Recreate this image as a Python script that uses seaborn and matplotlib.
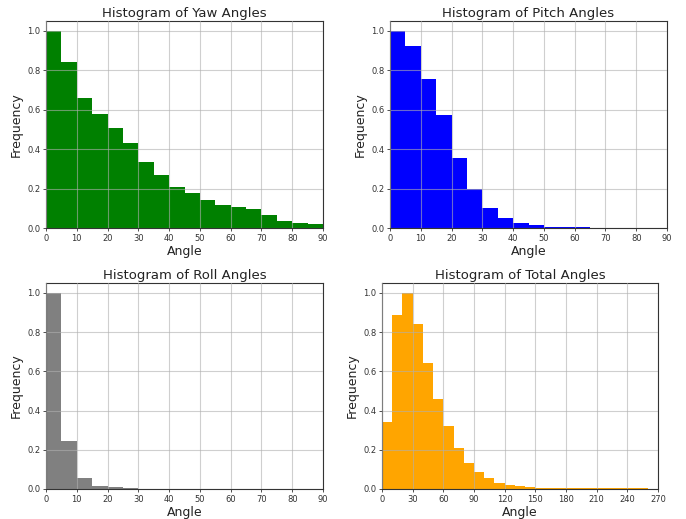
import numpy as np
import pandas as pd
import matplotlib
matplotlib.use("Agg")
import matplotlib.pyplot as plt
import seaborn as sns

# normalized histogram heights (max = 1)
yaw_edges = list(range(0, 95, 5))
yaw_freq = [1.0, 0.84, 0.66, 0.58, 0.505, 0.43, 0.335, 0.268, 0.207, 0.177,
            0.14, 0.115, 0.107, 0.095, 0.067, 0.038, 0.027, 0.02]

pitch_edges = list(range(0, 95, 5))
pitch_freq = [1.0, 0.922, 0.757, 0.574, 0.357, 0.2, 0.1, 0.05, 0.025, 0.013,
              0.007, 0.005, 0.004, 0.002, 0.002, 0.001, 0.001, 0.001]

roll_edges = list(range(0, 95, 5))
roll_freq = [1.0, 0.247, 0.056, 0.016, 0.008, 0.004, 0.002, 0.001, 0.0, 0.0,
             0.0, 0.0, 0.0, 0.0, 0.0, 0.0, 0.0, 0.0]

total_edges = list(range(0, 280, 10))
total_freq = [0.34, 0.886, 1.0, 0.843, 0.64, 0.458, 0.321, 0.21, 0.135, 0.088,
              0.055, 0.033, 0.02, 0.013, 0.01, 0.006, 0.004, 0.004, 0.004, 0.004,
              0.004, 0.004, 0.004, 0.004, 0.004, 0.004, 0.0]

panels = [
    ("Histogram of Yaw Angles", yaw_edges, yaw_freq, "green", [0, 10, 20, 30, 40, 50, 60, 70, 80, 90]),
    ("Histogram of Pitch Angles", pitch_edges, pitch_freq, "blue", [0, 10, 20, 30, 40, 50, 60, 70, 80, 90]),
    ("Histogram of Roll Angles", roll_edges, roll_freq, "gray", [0, 10, 20, 30, 40, 50, 60, 70, 80, 90]),
    ("Histogram of Total Angles", total_edges, total_freq, "orange", [0, 30, 60, 90, 120, 150, 180, 210, 240, 270]),
]

# axes boxes in pixels: left, top, right, bottom
boxes = [(46, 21, 323, 228), (390, 21, 667, 228),
         (46, 283, 323, 489), (382, 283, 658, 489)]

sns.set_style("white")
W, H = 686, 519
fig = plt.figure(figsize=(W / 100, H / 100), dpi=100)

for (title, edges, freq, color, xt), (l, t, r, b) in zip(panels, boxes):
    ax = fig.add_axes([l / W, 1 - b / H, (r - l) / W, (b - t) / H])
    centers = [(a + c) / 2 for a, c in zip(edges[:-1], edges[1:])]
    df = pd.DataFrame({"angle": centers, "freq": freq})
    sns.histplot(data=df, x="angle", weights="freq", bins=list(edges), color=color,
                 alpha=1, linewidth=0, ax=ax)
    ax.set_xlim(edges[0], edges[-1])
    ax.set_ylim(0, 1.05)
    ax.set_xticks(xt)
    ax.set_yticks([0.0, 0.2, 0.4, 0.6, 0.8, 1.0])
    ax.set_yticklabels(["0.0", "0.2", "0.4", "0.6", "0.8", "1.0"])
    ax.set_title(title, fontsize=9.5, pad=3, color="#222222")
    ax.set_xlabel("Angle", fontsize=9, labelpad=1.5, color="#222222")
    ax.set_ylabel("Frequency", fontsize=9, labelpad=3, color="#222222")
    ax.tick_params(labelsize=6, length=2.5, width=0.6, colors="#333333", pad=1.5,
                   bottom=True, left=True)
    ax.set_axisbelow(False)
    ax.grid(True, color="#b0b0b0", alpha=0.6, linewidth=0.8)
    for s in ax.spines.values():
        s.set_color("#333333")
        s.set_linewidth(0.8)

fig.savefig("out.png", dpi=100)
